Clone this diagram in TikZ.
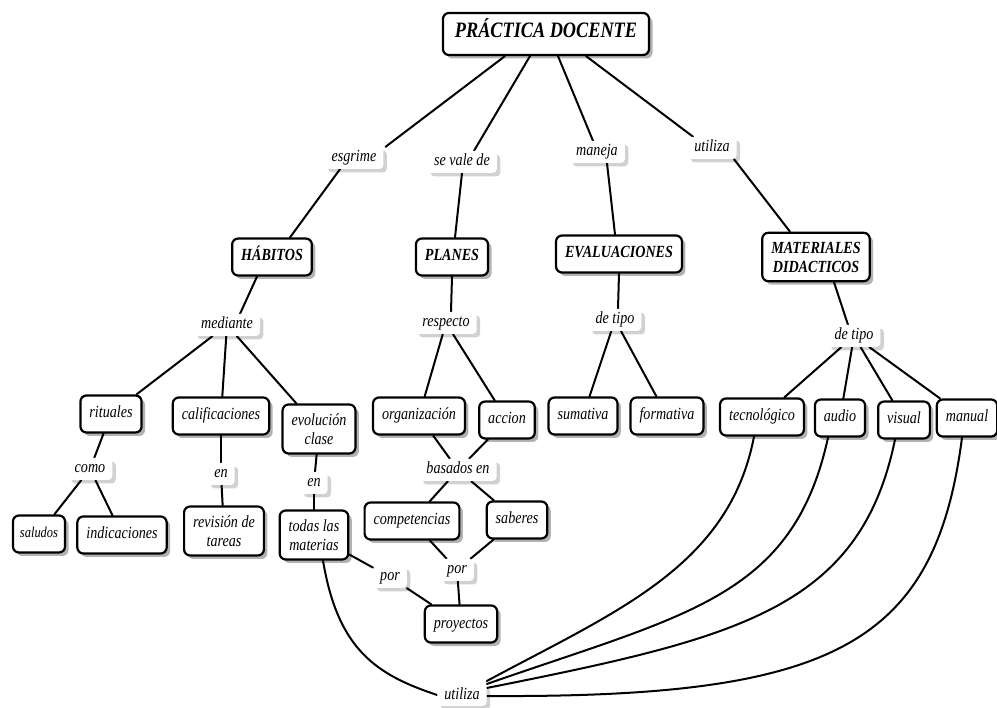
\documentclass[tikz,border=0pt]{standalone}
\usepackage{fontspec}
\setmainfont{Liberation Serif}[FakeStretch=0.83]
\usetikzlibrary{shadows}
\pgfdeclarelayer{bgfill}
\pgfdeclarelayer{background}
\pgfsetlayers{bgfill,background,main}
\tikzset{
  cbase/.style={draw, line width=2.2pt, rounded corners=6pt, fill=white,
    inner xsep=9pt, inner ysep=9pt, minimum height=37pt, align=center,
    font=\itshape\fontsize{17}{19}\selectfont,
    drop shadow={shadow xshift=3.5pt, shadow yshift=-3.5pt, fill=black, opacity=0.3}},
  cpt/.style={cbase, text height=12pt, text depth=4pt, inner ysep=4pt},
  cpttwo/.style={cbase},
  bcpt/.style={cpt, font=\bfseries\itshape\fontsize{17}{19}\selectfont},
  bcpttwo/.style={cpttwo, font=\bfseries\itshape\fontsize{17}{19}\selectfont},
  lnk/.style={fill=white, rounded corners=4pt, inner xsep=7pt, inner ysep=3pt,
    text height=12pt, text depth=4pt, font=\itshape\fontsize{17}{19}\selectfont,
    drop shadow={shadow xshift=3.5pt, shadow yshift=-3.5pt, fill=black, opacity=0.18}},
  conn/.style={line width=2pt, line cap=round}
}
\begin{document}
\begin{tikzpicture}[x=1pt,y=-1pt]
\begin{pgfonlayer}{bgfill}
\fill[white] (0,0) rectangle (997,708);
\end{pgfonlayer}
\useasboundingbox (0,0) rectangle (997,708);

% top
\node[bcpt, font=\bfseries\itshape\fontsize{22}{24}\selectfont, minimum height=42pt, inner xsep=12pt] (pd) at (546,34) {PRÁCTICA DOCENTE};

\node[lnk] (esg) at (354,158) {esgrime};
\node[lnk] (sev) at (462,162) {se vale de};
\node[lnk] (man) at (597,152) {maneja};
\node[lnk] (uti1) at (712,148) {utiliza};

\node[bcpt] (hab) at (272,257) {HÁBITOS};
\node[bcpt] (pla) at (452,257) {PLANES};
\node[bcpt] (eva) at (619,254) {EVALUACIONES};
\node[bcpttwo] (mat) at (816,257) {MATERIALES\\DIDACTICOS};

\node[lnk] (med) at (227,325) {mediante};
\node[lnk] (res) at (446,323) {respecto};
\node[lnk] (dt1) at (615,320) {de tipo};
\node[lnk] (dt2) at (854,336) {de tipo};

\node[cpt] (rit) at (111,414) {rituales};
\node[cpt] (cal) at (221,416) {calificaciones};
\node[cpttwo] (evo) at (319,429) {evolución\\clase};
\node[cpt] (org) at (419,416) {organización};
\node[cpt] (acc) at (507,420) {accion};
\node[cpt] (sum) at (583,416) {sumativa};
\node[cpt] (for) at (667,416) {formativa};
\node[cpt] (tec) at (762,417) {tecnológico};
\node[cpt] (aud) at (840,418) {audio};
\node[cpt] (vis) at (904,420) {visual};
\node[cpt] (manu) at (967,418) {manual};

\node[lnk] (como) at (90,469) {como};
\node[lnk] (en1) at (221,474) {en};
\node[lnk] (en2) at (314,483) {en};
\node[lnk] (bas) at (458,470) {basados en};

\node[cpt, font=\itshape\fontsize{15}{17}\selectfont, inner xsep=7pt] (sal) at (39,534) {saludos};
\node[cpt] (ind) at (122,535) {indicaciones};
\node[cpttwo] (rev) at (224,531) {revisión de\\tareas};
\node[cpttwo] (tod) at (314,535) {todas las\\materias};
\node[cpt] (com) at (412,521) {competencias};
\node[cpt] (sab) at (517,520) {saberes};

\node[lnk] (por1) at (390,577) {por};
\node[lnk] (por2) at (457,570) {por};
\node[cpt] (pro) at (461,624) {proyectos};
\node[lnk] (ut2) at (462,695) {utiliza};

\begin{pgfonlayer}{background}
\draw[conn] ([xshift=-41pt]pd.south) -- ([xshift=2pt]esg.north east);
\draw[conn] ([xshift=-16pt]pd.south) -- ([xshift=12pt]sev.north);
\draw[conn] ([xshift=12pt]pd.south) -- ([xshift=-4pt]man.north);
\draw[conn] ([xshift=40pt]pd.south) -- ([xshift=6pt]uti1.north west);

\draw[conn] ([xshift=-14pt]esg.south) -- ([xshift=18pt]hab.north);
\draw[conn] (sev.south) -- ([xshift=3pt]pla.north);
\draw[conn] ([xshift=10pt]man.south) -- ([xshift=-4pt]eva.north);
\draw[conn] ([xshift=22pt]uti1.south) -- ([xshift=-26pt]mat.north);

\draw[conn] ([xshift=-15pt]hab.south) -- ([xshift=13pt]med.north);
\draw[conn] (pla.south) -- ([xshift=5pt]res.north);
\draw[conn] (eva.south) -- ([xshift=3pt]dt1.north);
\draw[conn] ([xshift=18pt]mat.south) -- ([xshift=-6pt]dt2.north);

\draw[conn] (med) -- (rit);
\draw[conn] (med) -- (cal);
\draw[conn] (med) -- (evo);
\draw[conn] (res) -- (org);
\draw[conn] (res) -- (acc);
\draw[conn] (dt1) -- (sum);
\draw[conn] (dt1) -- (for);
\draw[conn] (dt2) -- (tec);
\draw[conn] (dt2) -- (aud);
\draw[conn] (dt2) -- (vis);
\draw[conn] (dt2) -- (manu);

\draw[conn] (rit) -- (como);
\draw[conn] (como) -- (sal);
\draw[conn] (como) -- (ind);
\draw[conn] (cal) -- (en1);
\draw[conn] (en1) -- (rev);
\draw[conn] (evo) -- (en2);
\draw[conn] (en2) -- (tod);
\draw[conn] (org) -- (bas);
\draw[conn] (acc) -- (bas);
\draw[conn] (bas) -- (com);
\draw[conn] (bas) -- (sab);
\draw[conn] (com) -- (por2);
\draw[conn] (sab) -- (por2);
\draw[conn] (por2) -- (pro);
\draw[conn] (tod) -- (por1);
\draw[conn] (por1) -- (pro);

\draw[conn] ([xshift=9pt]tod.south) .. controls +(15,90) and +(-60,-20) .. (ut2.west);
\draw[conn] ([xshift=-8pt]tec.south) .. controls +(-25,130) and +(130,-70) .. ([yshift=14pt]ut2.east);
\draw[conn] ([xshift=-12pt]aud.south) .. controls +(-35,160) and +(200,-70) .. ([yshift=11pt]ut2.east);
\draw[conn] ([xshift=-9pt]vis.south) .. controls +(-35,170) and +(250,-50) .. ([yshift=7pt]ut2.east);
\draw[conn] ([xshift=-5pt]manu.south) .. controls +(-27,209) and +(345,2) .. ([yshift=-1pt]ut2.east);
\end{pgfonlayer}
\end{tikzpicture}
\end{document}
